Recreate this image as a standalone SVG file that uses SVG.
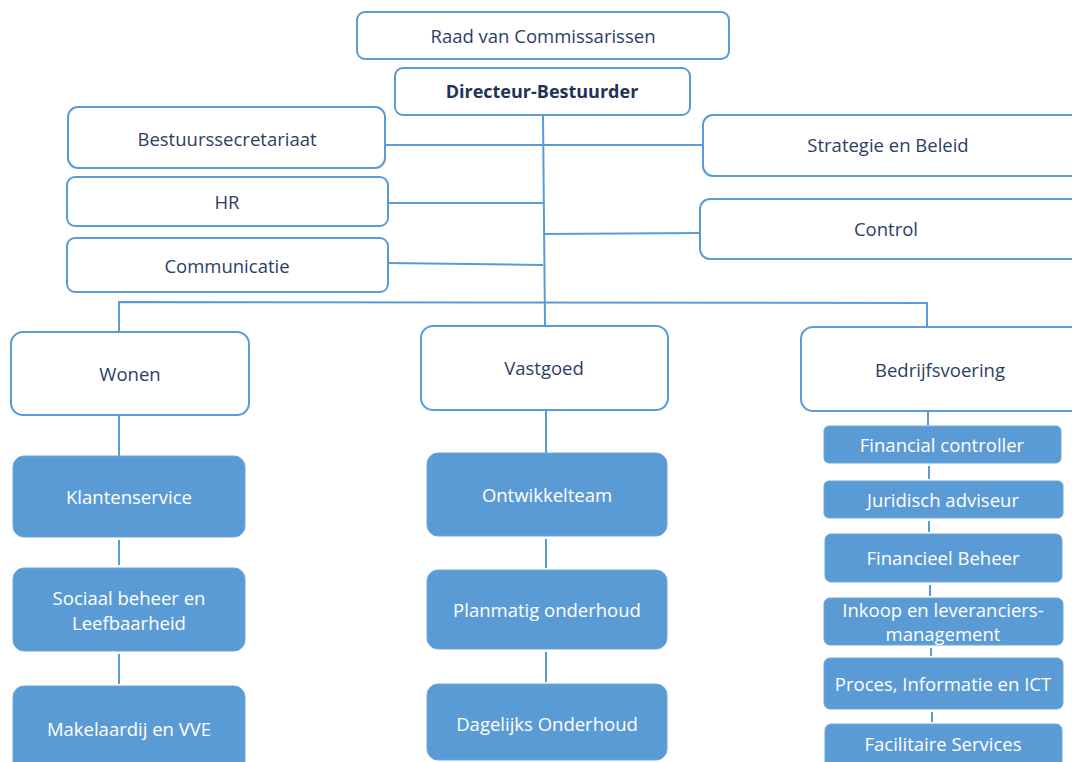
<svg xmlns="http://www.w3.org/2000/svg" width="1072" height="762" viewBox="0 0 1072 762">
<style>
.b{fill:#ffffff;stroke:#5b9bd5;stroke-width:2}
.f{fill:#5b9bd5;stroke:#6fa7da;stroke-width:1}
.t{font-family:"Open Sans","Liberation Sans",sans-serif;font-size:18.5px;fill:#2c3e66;text-anchor:middle;dominant-baseline:central}
.w{font-family:"Open Sans","Liberation Sans",sans-serif;font-size:18.5px;fill:#ffffff;text-anchor:middle;dominant-baseline:central}
.c{stroke:#5b9bd5;stroke-width:2;fill:none}
</style>
<rect width="1072" height="762" fill="#ffffff"/>
<g id="connectors">
<path class="c" d="M543 115 L545 326"/>
<path class="c" d="M385 145 L703 145"/>
<path class="c" d="M388 203 L543 203"/>
<path class="c" d="M388 263 L543 265"/>
<path class="c" d="M543 234 L700 233"/>
<path class="c" d="M119 332 L119 302 L927 303 L927 327"/>
<path class="c" d="M119 415 L119 456"/>
<path class="c" d="M119 540 L119 565"/>
<path class="c" d="M119 654 L119 684"/>
<path class="c" d="M546 410 L546 453"/>
<path class="c" d="M546 539 L546 568"/>
<path class="c" d="M546 652 L546 682"/>
<path class="c" d="M928 411 L928 425"/>
<path class="c" d="M929 466 L929 479"/>
<path class="c" d="M929 521 L929 532"/>
<path class="c" d="M930 585 L930 596"/>
<path class="c" d="M931 648 L931 656"/>
<path class="c" d="M932 712 L932 722"/>
</g>
<g id="raad"><rect class="b" x="357" y="12" width="372" height="47" rx="8"/><text class="t" x="543" y="35">Raad van Commissarissen</text></g>
<g id="directeur"><rect class="b" x="395" y="68" width="295" height="47" rx="8"/><text class="t" x="542" y="91" font-weight="bold" style="fill:#1f3358;font-size:18px">Directeur-Bestuurder</text></g>
<g id="bestuurssecretariaat"><rect class="b" x="68" y="107" width="317" height="61" rx="10"/><text class="t" x="227" y="138">Bestuurssecretariaat</text></g>
<g id="hr"><rect class="b" x="67" y="177" width="321" height="49" rx="8"/><text class="t" x="227" y="201">HR</text></g>
<g id="communicatie"><rect class="b" x="67" y="238" width="321" height="54" rx="8"/><text class="t" x="227" y="265">Communicatie</text></g>
<g id="strategie"><rect class="b" x="703" y="115" width="380" height="61" rx="10"/><text class="t" x="888" y="144">Strategie en Beleid</text></g>
<g id="control"><rect class="b" x="700" y="199" width="383" height="60" rx="10"/><text class="t" x="886" y="228">Control</text></g>
<g id="wonen"><rect class="b" x="11" y="332" width="238" height="83" rx="12"/><text class="t" x="130" y="373">Wonen</text></g>
<g id="vastgoed"><rect class="b" x="421" y="326" width="247" height="84" rx="12"/><text class="t" x="544" y="367">Vastgoed</text></g>
<g id="bedrijfsvoering"><rect class="b" x="801" y="327" width="290" height="84" rx="12"/><text class="t" x="940" y="369">Bedrijfsvoering</text></g>
<g id="klantenservice"><rect class="f" x="13" y="456" width="232" height="81" rx="11"/><text class="w" x="129" y="496">Klantenservice</text></g>
<g id="sociaal"><rect class="f" x="13" y="568" width="232" height="83" rx="11"/><text class="w" x="129" y="597">Sociaal beheer en</text><text class="w" x="129" y="622">Leefbaarheid</text></g>
<g id="makelaardij"><rect class="f" x="13" y="686" width="232" height="90" rx="11"/><text class="w" x="129" y="728">Makelaardij en VVE</text></g>
<g id="ontwikkelteam"><rect class="f" x="427" y="453" width="240" height="83" rx="11"/><text class="w" x="547" y="494">Ontwikkelteam</text></g>
<g id="planmatig"><rect class="f" x="427" y="570" width="240" height="79" rx="11"/><text class="w" x="547" y="609">Planmatig onderhoud</text></g>
<g id="dagelijks"><rect class="f" x="427" y="684" width="240" height="76" rx="11"/><text class="w" x="547" y="723">Dagelijks Onderhoud</text></g>
<g id="financial"><rect class="f" x="824" y="426" width="237" height="37" rx="5"/><text class="w" x="942" y="444">Financial controller</text></g>
<g id="juridisch"><rect class="f" x="824" y="481" width="239" height="37" rx="5"/><text class="w" x="943" y="499">Juridisch adviseur</text></g>
<g id="financieel"><rect class="f" x="825" y="534" width="237" height="48" rx="6"/><text class="w" x="943" y="557">Financieel Beheer</text></g>
<g id="inkoop"><rect class="f" x="824" y="598" width="239" height="47" rx="6"/><text class="w" x="943" y="609">Inkoop en leveranciers-</text><text class="w" x="943" y="633">management</text></g>
<g id="proces"><rect class="f" x="824" y="658" width="239" height="51" rx="6"/><text class="w" x="943" y="683">Proces, Informatie en ICT</text></g>
<g id="facilitaire"><rect class="f" x="825" y="724" width="237" height="45" rx="6"/><text class="w" x="943" y="743">Facilitaire Services</text></g>
</svg>
